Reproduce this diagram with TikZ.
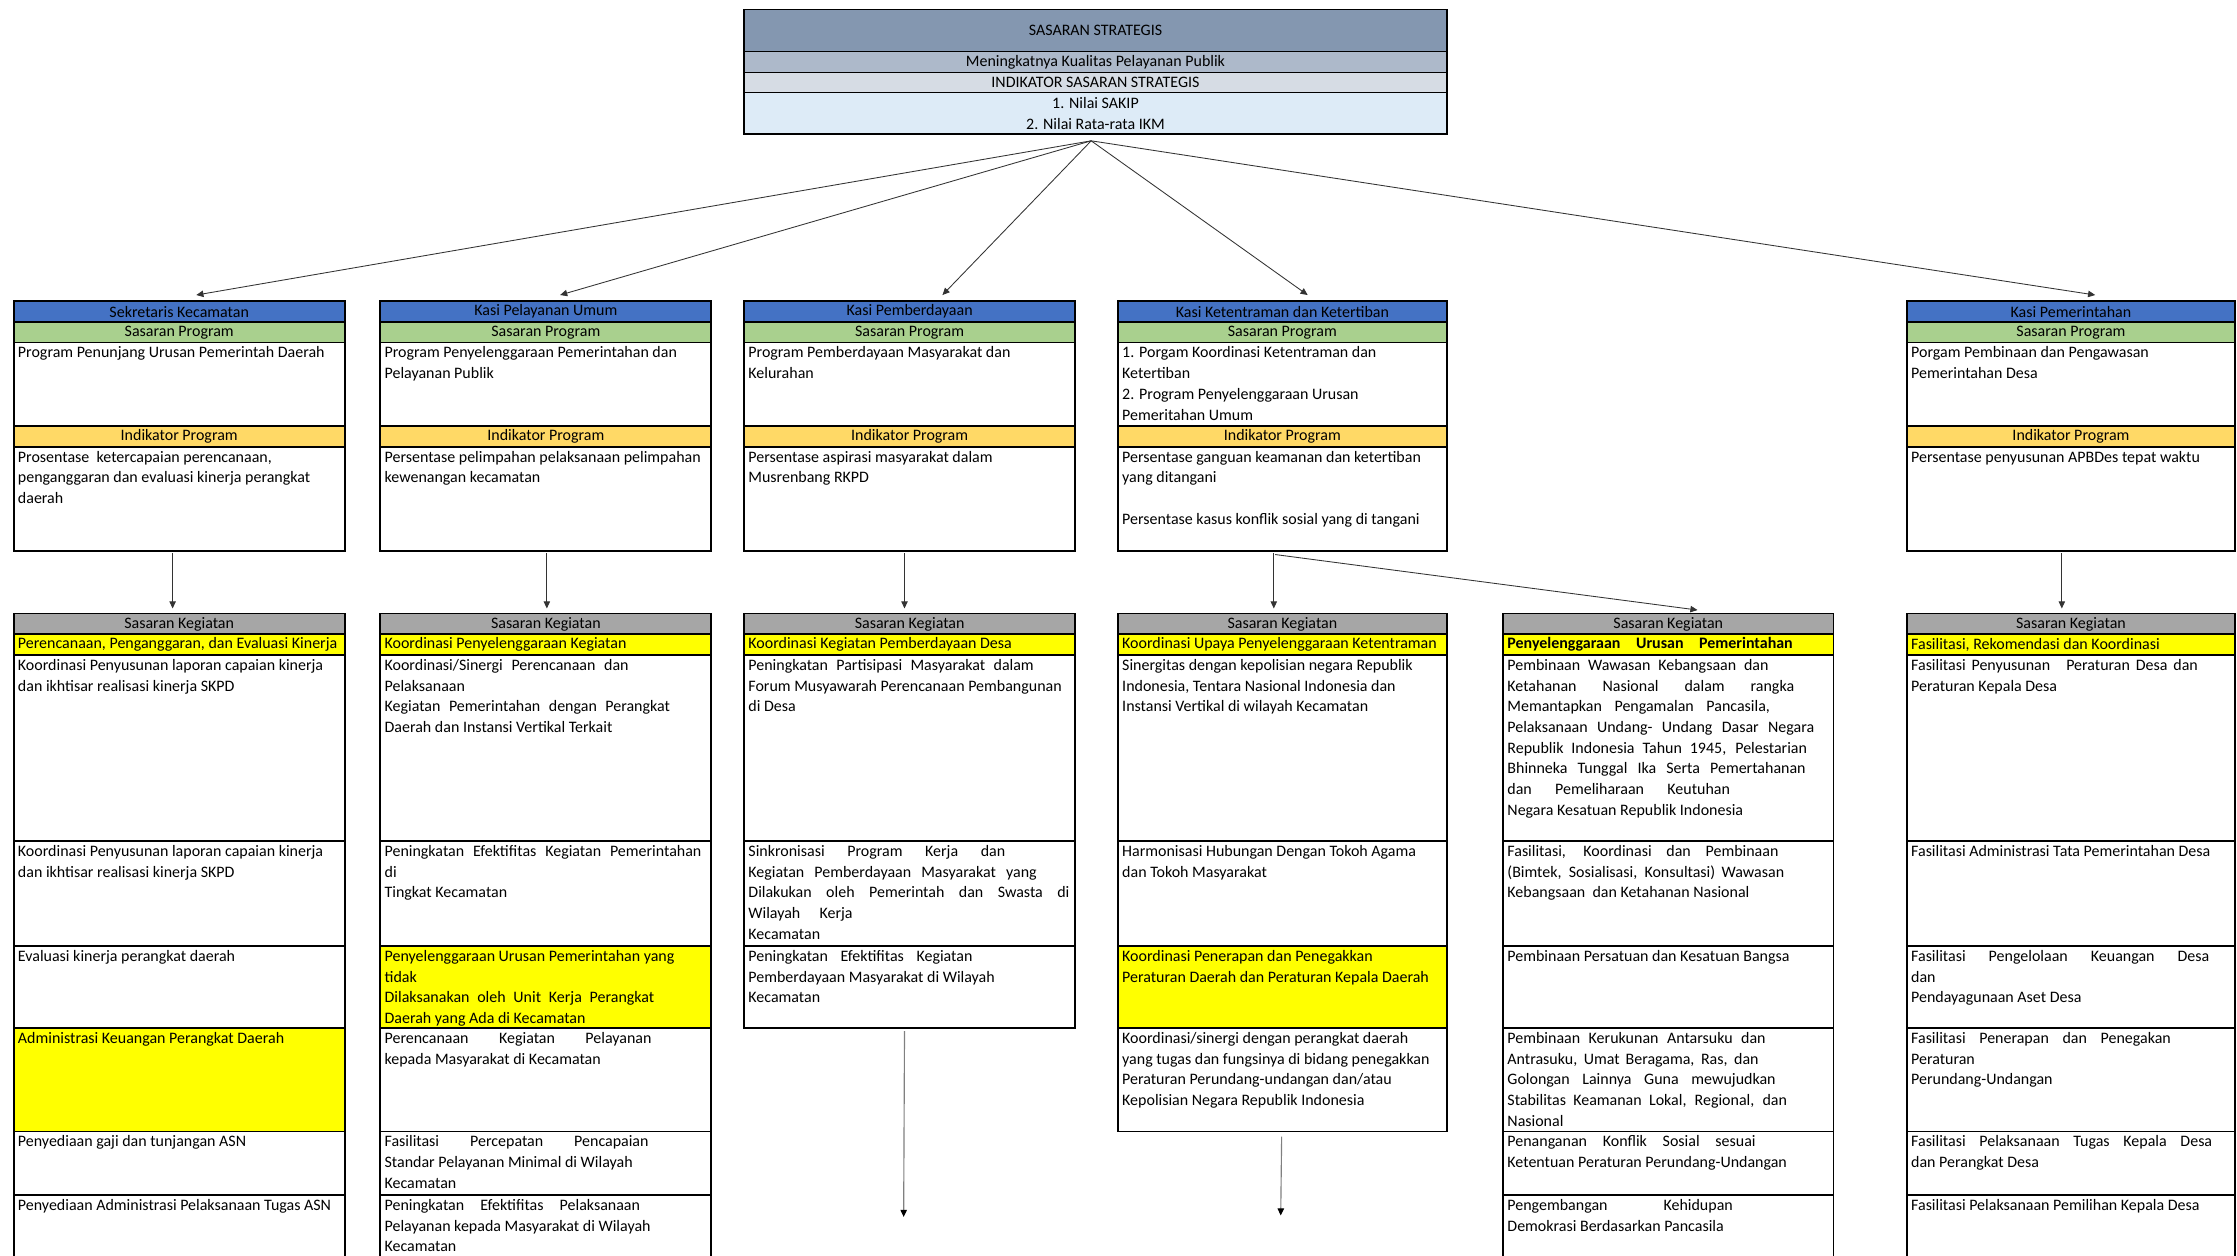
\documentclass[tikz,border=0pt]{standalone}
\usepackage{fontspec}
\setmainfont{Carlito}
\usetikzlibrary{arrows.meta}
\definecolor{ttl}{HTML}{8497B0}
\definecolor{ttlb}{HTML}{ADB9CA}
\definecolor{ttlc}{HTML}{D6DCE4}
\definecolor{ttld}{HTML}{DDEBF7}
\definecolor{hblue}{HTML}{4472C4}
\definecolor{hgreen}{HTML}{A9D08E}
\definecolor{horange}{HTML}{FFD966}
\definecolor{hgrey}{HTML}{A6A6A6}
\definecolor{hyel}{HTML}{FFFF00}
\newcommand\fs{\fontsize{11.2pt}{14.5pt}\selectfont}
\tikzset{
  cellbox/.style={draw, line width=1.2pt, anchor=north west, inner xsep=3pt, inner ysep=0pt, font=\fs},
  hdrbox/.style={draw, line width=1.2pt, anchor=north west, inner sep=0pt, font=\fs, align=center},
  arr/.style={-{Triangle[length=5pt,width=4.5pt]}, line width=0.6pt, draw=black!80},
  garr/.style={-{Triangle[length=5pt,width=4.5pt,color=black]}, line width=0.8pt, draw=black!50},
}
\newcommand\cellnode[7]{\node[cellbox, fill=#6, minimum width=#4pt, minimum height=#5pt] (#1) at (#2,#3) {\parbox[c][#5pt][t]{\dimexpr#4pt-6pt\relax}{\raggedright\rule{0pt}{10.8pt}#7}};}
\newcommand\hnode[7]{\node[hdrbox, fill=#6, minimum width=#4pt, minimum height=#5pt] (#1) at (#2,#3) {#7};}
\newcommand\lnode[7]{\node[hdrbox, fill=#6, minimum width=#4pt, minimum height=#5pt, inner xsep=3pt] (#1) at (#2,#3) {\makebox[\dimexpr#4pt-6pt\relax][l]{#7}};}
\newcommand\jl[2]{\makebox[#1pt][s]{#2}}
\newcommand\levtwo[6]{%
  \hnode{h#1}{#2}{210.5}{#3}{14.5}{hblue}{#4}
  \hnode{g#1}{#2}{225}{#3}{14.5}{hgreen}{Sasaran Program}
  \cellnode{p#1}{#2}{239.5}{#3}{58.5}{white}{#5}
  \hnode{o#1}{#2}{298}{#3}{14.5}{horange}{Indikator Program}
  \cellnode{n#1}{#2}{312.5}{#3}{73}{white}{#6}}
\begin{document}
\begin{tikzpicture}[x=1pt,y=-1pt]
\useasboundingbox[fill=white] (0,0) rectangle (1568,880);
% top box
\hnode{t1}{521}{6}{492.5}{29.5}{ttl}{SASARAN STRATEGIS}
\hnode{t2}{521}{35.5}{492.5}{14.7}{ttlb}{Meningkatnya Kualitas Pelayanan Publik}
\hnode{t3}{521}{50.2}{492.5}{14.1}{ttlc}{INDIKATOR SASARAN STRATEGIS}
\hnode{t4}{521}{64.3}{492.5}{29.2}{ttld}{1. Nilai SAKIP\\2. Nilai Rata-rata IKM}
% level 2
\levtwo{1}{9}{232}{Sekretaris Kecamatan}{Program Penunjang Urusan Pemerintah Daerah}{Prosentase\ \ ketercapaian perencanaan,\\penganggaran dan evaluasi kinerja perangkat\\daerah}
\levtwo{2}{266}{232}{Kasi Pelayanan Umum}{Program Penyelenggaraan Pemerintahan dan\\Pelayanan Publik}{Persentase pelimpahan pelaksanaan pelimpahan\\kewenangan kecamatan}
\levtwo{3}{521}{232}{Kasi Pemberdayaan}{Program Pemberdayaan Masyarakat dan\\Kelurahan}{Persentase aspirasi masyarakat dalam\\Musrenbang RKPD}
\levtwo{4}{783}{230.5}{Kasi Ketentraman dan Ketertiban}{1. Porgam Koordinasi Ketentraman dan\\Ketertiban\\2. Program Penyelenggaraan Urusan\\Pemeritahan Umum}{Persentase ganguan keamanan dan ketertiban\\yang ditangani\\[14.5pt]Persentase kasus konflik sosial yang di tangani}
\levtwo{5}{1336}{230}{Kasi Pemerintahan}{Porgam Pembinaan dan Pengawasan\\Pemerintahan Desa}{Persentase penyusunan APBDes tepat waktu}
% level 3, column 1
\hnode{k1}{9}{429.5}{232}{14.5}{hgrey}{Sasaran Kegiatan}
\lnode{y1}{9}{444}{232}{14.5}{hyel}{Perencanaan, Penganggaran, dan Evaluasi Kinerja}
\cellnode{c1a}{9}{458.5}{232}{130.5}{white}{Koordinasi Penyusunan laporan capaian kinerja\\dan ikhtisar realisasi kinerja SKPD}
\cellnode{c1b}{9}{589}{232}{73.5}{white}{Koordinasi Penyusunan laporan capaian kinerja\\dan ikhtisar realisasi kinerja SKPD}
\cellnode{c1c}{9}{662.5}{232}{57.5}{white}{Evaluasi kinerja perangkat daerah}
\cellnode{c1d}{9}{720}{232}{72.5}{hyel}{Administrasi Keuangan Perangkat Daerah}
\cellnode{c1e}{9}{792.5}{232}{44.5}{white}{Penyediaan gaji dan tunjangan ASN}
\cellnode{c1f}{9}{837}{232}{45}{white}{Penyediaan Administrasi Pelaksanaan Tugas ASN}
% column 2
\hnode{k2}{266}{429.5}{232}{14.5}{hgrey}{Sasaran Kegiatan}
\lnode{y2}{266}{444}{232}{14.5}{hyel}{Koordinasi Penyelenggaraan Kegiatan}
\cellnode{c2a}{266}{458.5}{232}{130.5}{white}{\jl{171}{Koordinasi/Sinergi Perencanaan dan}\\Pelaksanaan\\\jl{200}{Kegiatan Pemerintahan dengan Perangkat}\\Daerah dan Instansi Vertikal Terkait}
\cellnode{c2b}{266}{589}{232}{73.5}{white}{\jl{222}{Peningkatan Efektifitas Kegiatan Pemerintahan}\\di\\Tingkat Kecamatan}
\cellnode{c2c}{266}{662.5}{232}{57.5}{hyel}{Penyelenggaraan Urusan Pemerintahan yang\\tidak\\\jl{189}{Dilaksanakan oleh Unit Kerja Perangkat}\\Daerah yang Ada di Kecamatan}
\cellnode{c2d}{266}{720}{232}{72.5}{white}{\jl{187}{Perencanaan Kegiatan Pelayanan}\\kepada Masyarakat di Kecamatan}
\cellnode{c2e}{266}{792.5}{232}{44.5}{white}{\jl{185}{Fasilitasi Percepatan Pencapaian}\\Standar Pelayanan Minimal di Wilayah\\Kecamatan}
\cellnode{c2f}{266}{837}{232}{45}{white}{\jl{179}{Peningkatan Efektifitas Pelaksanaan}\\Pelayanan kepada Masyarakat di Wilayah\\Kecamatan}
% column 3
\hnode{k3}{521}{429.5}{232}{14.5}{hgrey}{Sasaran Kegiatan}
\lnode{y3}{521}{444}{232}{14.5}{hyel}{Koordinasi Kegiatan Pemberdayaan Desa}
\cellnode{c3a}{521}{458.5}{232}{130.5}{white}{\jl{200}{Peningkatan Partisipasi Masyarakat dalam}\\Forum Musyawarah Perencanaan Pembangunan\\di Desa}
\cellnode{c3b}{521}{589}{232}{73.5}{white}{\jl{180}{Sinkronisasi Program Kerja dan}\\\jl{202}{Kegiatan Pemberdayaan Masyarakat yang}\\\jl{225}{Dilakukan oleh Pemerintah dan Swasta di}\\\jl{73}{Wilayah Kerja}\\Kecamatan}
\cellnode{c3c}{521}{662.5}{232}{57.5}{white}{\jl{157}{Peningkatan Efektifitas Kegiatan}\\Pemberdayaan Masyarakat di Wilayah\\Kecamatan}
% column 4
\hnode{k4}{783}{429.5}{230.5}{14.5}{hgrey}{Sasaran Kegiatan}
\lnode{y4}{783}{444}{230.5}{14.5}{hyel}{Koordinasi Upaya Penyelenggaraan Ketentraman}
\cellnode{c4a}{783}{458.5}{230.5}{130.5}{white}{Sinergitas dengan kepolisian negara Republik\\Indonesia, Tentara Nasional Indonesia dan\\Instansi Vertikal di wilayah Kecamatan}
\cellnode{c4b}{783}{589}{230.5}{73.5}{white}{Harmonisasi Hubungan Dengan Tokoh Agama\\dan Tokoh Masyarakat}
\cellnode{c4c}{783}{662.5}{230.5}{57.5}{hyel}{Koordinasi Penerapan dan Penegakkan\\Peraturan Daerah dan Peraturan Kepala Daerah}
\cellnode{c4d}{783}{720}{230.5}{72.5}{white}{Koordinasi/sinergi dengan perangkat daerah\\yang tugas dan fungsinya di bidang penegakkan\\Peraturan Perundang-undangan dan/atau\\Kepolisian Negara Republik Indonesia}
% column 5
\hnode{k5}{1053}{429.5}{231.5}{14.5}{hgrey}{Sasaran Kegiatan}
\lnode{y5}{1053}{444}{231.5}{14.5}{hyel}{\textbf{\jl{200}{Penyelenggaraan Urusan Pemerintahan}}}
\cellnode{c5a}{1053}{458.5}{231.5}{130.5}{white}{\jl{183}{Pembinaan Wawasan Kebangsaan dan}\\\jl{201}{Ketahanan Nasional dalam rangka}\\\jl{184}{Memantapkan Pengamalan Pancasila,}\\\jl{215}{Pelaksanaan Undang- Undang Dasar Negara}\\\jl{210}{Republik Indonesia Tahun 1945, Pelestarian}\\\jl{209}{Bhinneka Tunggal Ika Serta Pemertahanan}\\\jl{156}{dan Pemeliharaan Keutuhan}\\Negara Kesatuan Republik Indonesia}
\cellnode{c5b}{1053}{589}{231.5}{73.5}{white}{\jl{190}{Fasilitasi, Koordinasi dan Pembinaan}\\\jl{194}{(Bimtek, Sosialisasi, Konsultasi) Wawasan}\\Kebangsaan\ \ dan Ketahanan Nasional}
\cellnode{c5c}{1053}{662.5}{231.5}{57.5}{white}{Pembinaan Persatuan dan Kesatuan Bangsa}
\cellnode{c5d}{1053}{720}{231.5}{72.5}{white}{\jl{181}{Pembinaan Kerukunan Antarsuku dan}\\\jl{176}{Antrasuku, Umat Beragama, Ras, dan}\\\jl{188}{Golongan Lainnya Guna mewujudkan}\\\jl{196}{Stabilitas Keamanan Lokal, Regional, dan}\\Nasional}
\cellnode{c5e}{1053}{792.5}{231.5}{44.5}{white}{\jl{174}{Penanganan Konflik Sosial sesuai}\\Ketentuan Peraturan Perundang-Undangan}
\cellnode{c5f}{1053}{837}{231.5}{45}{white}{\jl{158}{Pengembangan Kehidupan}\\Demokrasi Berdasarkan Pancasila}
% column 6
\hnode{k6}{1336}{429.5}{230}{14.5}{hgrey}{Sasaran Kegiatan}
\lnode{y6}{1336}{444}{230}{14.5}{hyel}{Fasilitasi, Rekomendasi dan Koordinasi}
\cellnode{c6a}{1336}{458.5}{230}{130.5}{white}{\jl{201}{Fasilitasi Penyusunan\quad Peraturan Desa dan}\\Peraturan Kepala Desa}
\cellnode{c6b}{1336}{589}{230}{73.5}{white}{Fasilitasi Administrasi Tata Pemerintahan Desa}
\cellnode{c6c}{1336}{662.5}{230}{57.5}{white}{\jl{209}{Fasilitasi Pengelolaan Keuangan Desa}\\dan\\Pendayagunaan Aset Desa}
\cellnode{c6d}{1336}{720}{230}{72.5}{white}{\jl{182}{Fasilitasi Penerapan dan Penegakan}\\Peraturan\\Perundang-Undangan}
\cellnode{c6e}{1336}{792.5}{230}{44.5}{white}{\jl{211}{Fasilitasi Pelaksanaan Tugas Kepala Desa}\\dan Perangkat Desa}
\cellnode{c6f}{1336}{837}{230}{45}{white}{Fasilitasi Pelaksanaan Pemilihan Kepala Desa}
% connectors top -> level 2
\draw[arr] ([xshift=-3pt,yshift=-4pt]t4.south) -- ([xshift=12pt,yshift=3.7pt]h1.north);
\draw[arr] ([xshift=-3pt,yshift=-4pt]t4.south) -- ([xshift=10pt,yshift=3.7pt]h2.north);
\draw[arr] ([xshift=-3pt,yshift=-4pt]t4.south) -- ([xshift=23pt,yshift=3.7pt]h3.north);
\draw[arr] ([xshift=-3pt,yshift=-4pt]t4.south) -- ([xshift=17.75pt,yshift=3.7pt]h4.north);
\draw[arr] ([xshift=-3pt,yshift=-4pt]t4.south) -- ([xshift=17pt,yshift=3.7pt]h5.north);
% level 2 -> level 3
\draw[arr] ([xshift=-4.6pt,yshift=-1pt]n1.south) -- ([xshift=-4.6pt,yshift=3pt]k1.north);
\draw[arr] ([xshift=0.7pt,yshift=-1pt]n2.south) -- ([xshift=0.7pt,yshift=3pt]k2.north);
\draw[arr] ([xshift=-3.6pt,yshift=-1pt]n3.south) -- ([xshift=-3.6pt,yshift=3pt]k3.north);
\draw[arr] ([xshift=-6pt,yshift=-1pt]n4.south) -- ([xshift=-6pt,yshift=3pt]k4.north);
\draw[arr] ([xshift=-5pt,yshift=-2pt]n4.south) -- ([xshift=20.5pt,yshift=1.9pt]k5.north);
\draw[arr] ([xshift=-6.4pt,yshift=-1pt]n5.south) -- ([xshift=-6.4pt,yshift=3pt]k6.north);
% bottom arrows
\coordinate (e3) at (633.4,853);
\coordinate (e4) at (897.7,852);
\draw[garr] ([xshift=-3.6pt,yshift=-1.5pt]c3c.south) -- (e3);
\draw[garr] ([xshift=-0.5pt,yshift=-3pt]c4d.south) -- (e4);
\end{tikzpicture}
\end{document}
